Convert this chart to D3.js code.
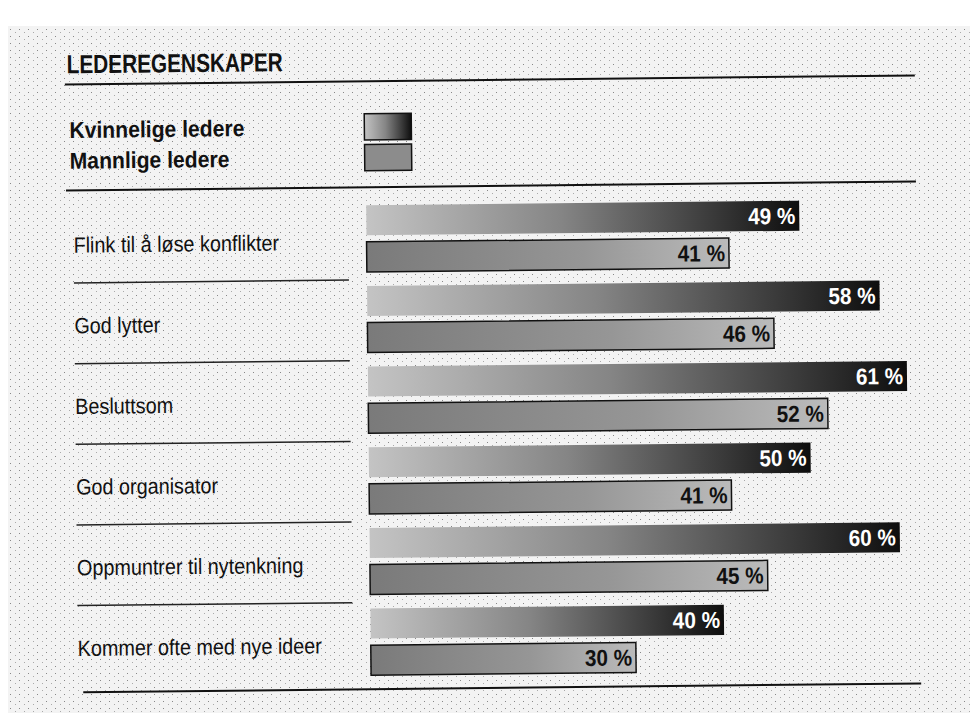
<!DOCTYPE html>
<html>
<head>
<meta charset="utf-8">
<script src="https://cdn.jsdelivr.net/npm/d3@7"></script>
<style>
  body { margin: 0; background: #fff; }
  text { font-family: "Liberation Sans", Arial, sans-serif; }
</style>
</head>
<body>
<div id="chart"></div>
<script>
var title = "LEDEREGENSKAPER";
var series = ["Kvinnelige ledere", "Mannlige ledere"];
var categories = ["Flink til å løse konflikter", "God lytter", "Besluttsom",
                  "God organisator", "Oppmuntrer til nytenkning", "Kommer ofte med nye ideer"];
var kvinner = [49, 58, 61, 50, 60, 40];
var menn = [41, 46, 52, 41, 45, 30];

var width = 970, height = 713;
var narrow = 0.8;   // condensed look of the print font

var svg = d3.select("#chart")
    .append("svg")
    .attr("width", width)
    .attr("height", height);

var defs = svg.append("defs");

// grainy paper look
var pat = defs.append("pattern")
    .attr("id", "grain")
    .attr("width", 9).attr("height", 7)
    .attr("patternUnits", "userSpaceOnUse");
pat.append("rect").attr("width", 9).attr("height", 7).attr("fill", "#f3f3f3");
pat.append("rect").attr("x", 1).attr("y", 1).attr("width", 1).attr("height", 1).attr("fill", "#888");
pat.append("rect").attr("x", 6).attr("y", 4).attr("width", 1).attr("height", 1).attr("fill", "#aaa");

var gK = defs.append("linearGradient").attr("id", "gradK");
gK.append("stop").attr("offset", "0%").attr("stop-color", "#c4c4c4");
gK.append("stop").attr("offset", "45%").attr("stop-color", "#858585");
gK.append("stop").attr("offset", "80%").attr("stop-color", "#3a3a3a");
gK.append("stop").attr("offset", "100%").attr("stop-color", "#0e0e0e");

var gM = defs.append("linearGradient").attr("id", "gradM");
gM.append("stop").attr("offset", "0%").attr("stop-color", "#7a7a7a");
gM.append("stop").attr("offset", "60%").attr("stop-color", "#969696");
gM.append("stop").attr("offset", "100%").attr("stop-color", "#bbbbbb");

svg.append("rect")
    .attr("x", 8).attr("y", 26)
    .attr("width", width - 8).attr("height", height - 26)
    .attr("fill", "url(#grain)");

var g = svg.append("g")
    .attr("transform", "rotate(-0.6, 485, 380)");

function place(x, y, sx) {
  return "translate(" + x + "," + y + ") scale(" + (sx || narrow) + ",1)";
}

g.append("text")
    .attr("transform", place(70, 69, 0.8))
    .attr("font-size", 26).attr("font-weight", "bold")
    .attr("fill", "#111")
    .text(title);

g.append("line")
    .attr("x1", 68).attr("x2", 918).attr("y1", 80).attr("y2", 80)
    .attr("stroke", "#111").attr("stroke-width", 2);

var legendY = d3.scaleBand().domain(series).range([108, 174]).padding(0.15);

var leg = g.selectAll(".leg")
    .data(series)
    .enter().append("g");

leg.append("text")
    .attr("transform", function(d) {
      return place(72, legendY(d) + legendY.bandwidth() / 2 + 8, 0.92);
    })
    .attr("font-size", 23).attr("font-weight", "bold")
    .attr("fill", "#111")
    .text(function(d) { return d; });

leg.append("rect")
    .attr("x", 367)
    .attr("y", function(d) { return legendY(d); })
    .attr("width", 47)
    .attr("height", legendY.bandwidth())
    .attr("fill", function(d, i) { return i == 0 ? "url(#gradK)" : "#8c8c8c"; })
    .attr("stroke", "#111").attr("stroke-width", 1.5);

g.append("line")
    .attr("x1", 68).attr("x2", 918).attr("y1", 186).attr("y2", 186)
    .attr("stroke", "#111").attr("stroke-width", 2);

var y = d3.scaleBand()
    .domain(categories)
    .range([200, 684]);

var ySub = d3.scaleBand()
    .domain(series)
    .range([4, y.step() - 10])
    .paddingInner(0.18);

var x = d3.scaleLinear()
    .domain([0, 61])
    .range([368, 907]);

var rows = categories.map(function(c, i) {
  return {cat: c, vals: [kvinner[i], menn[i]]};
});

var row = g.selectAll(".row")
    .data(rows)
    .enter().append("g")
    .attr("transform", function(d) { return "translate(0," + y(d.cat) + ")"; });

row.append("text")
    .attr("transform", place(75, y.step() / 2 + 8, 0.9))
    .attr("font-size", 22)
    .attr("fill", "#111")
    .text(function(d) { return d.cat; });

row.filter(function(d, i) { return i > 0; })
    .append("line")
    .attr("x1", 75).attr("x2", 350)
    .attr("y1", -2).attr("y2", -2)
    .attr("stroke", "#222").attr("stroke-width", 1.5);

var bars = row.selectAll(".bar")
    .data(function(d) {
      return d.vals.map(function(v, j) { return {s: series[j], v: v, j: j}; });
    })
    .enter().append("g");

bars.append("rect")
    .attr("x", x(0))
    .attr("y", function(d) { return ySub(d.s); })
    .attr("width", function(d) { return x(d.v) - x(0); })
    .attr("height", ySub.bandwidth())
    .attr("fill", function(d) { return d.j == 0 ? "url(#gradK)" : "url(#gradM)"; })
    .attr("stroke", function(d) { return d.j == 0 ? "none" : "#111"; })
    .attr("stroke-width", 1.5);

bars.append("text")
    .attr("transform", function(d) {
      return place(x(d.v) - 4, ySub(d.s) + ySub.bandwidth() / 2 + 8, 0.9);
    })
    .attr("text-anchor", "end")
    .attr("font-size", 23).attr("font-weight", "bold")
    .attr("fill", function(d) { return d.j == 0 ? "#fff" : "#111"; })
    .text(function(d) { return d.v + " %"; });

g.append("line")
    .attr("x1", 80).attr("x2", 918).attr("y1", 688).attr("y2", 688)
    .attr("stroke", "#111").attr("stroke-width", 2);
</script>
</body>
</html>
